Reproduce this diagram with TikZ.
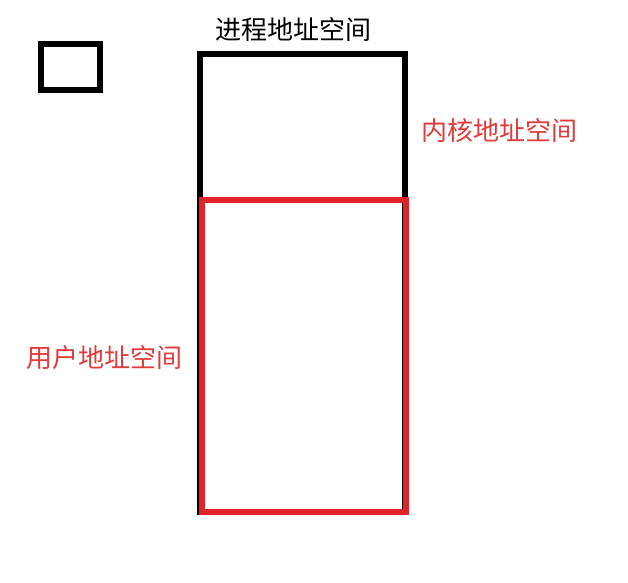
\documentclass[tikz,border=0pt]{standalone}
\usepackage{fontspec}
\usepackage{xcolor}
\usepackage{tikz}
\usetikzlibrary{positioning}
\newfontfamily\cjkfont{Noto Sans CJK SC}
\definecolor{memred}{HTML}{E4222B}
\definecolor{txtred}{HTML}{E03A3A}
\tikzset{
  spbox/.style={draw=black,line width=6pt,inner sep=0pt,fill=none},
  kbox/.style={draw=memred,line width=6pt,inner sep=0pt,fill=none},
  sptext/.style={font=\cjkfont\fontsize{26}{30}\selectfont,inner sep=0pt},
  redtext/.style={sptext,text=txtred},
}

\begin{document}
\begin{tikzpicture}[x=1pt,y=-1pt]
  \useasboundingbox[fill=white] (0,0) rectangle (628,582);
  \node[spbox,minimum width=58.5pt,minimum height=46.5pt] (nMini) at (70.25,66.75) {};
  \node[spbox,minimum width=205.5pt,minimum height=458pt] (nProc) at (302.25,283) {};
  \node[kbox,minimum width=204pt,minimum height=311.5pt] (nUser) at (303.5,355.75) {};
  \node[sptext] (tProc) at (293,30) {进程地址空间};
  \node[redtext] (tKern) at (499,131) {内核地址空间};
  \node[redtext] (tUser) at (104,358) {用户地址空间};
\end{tikzpicture}
\end{document}
